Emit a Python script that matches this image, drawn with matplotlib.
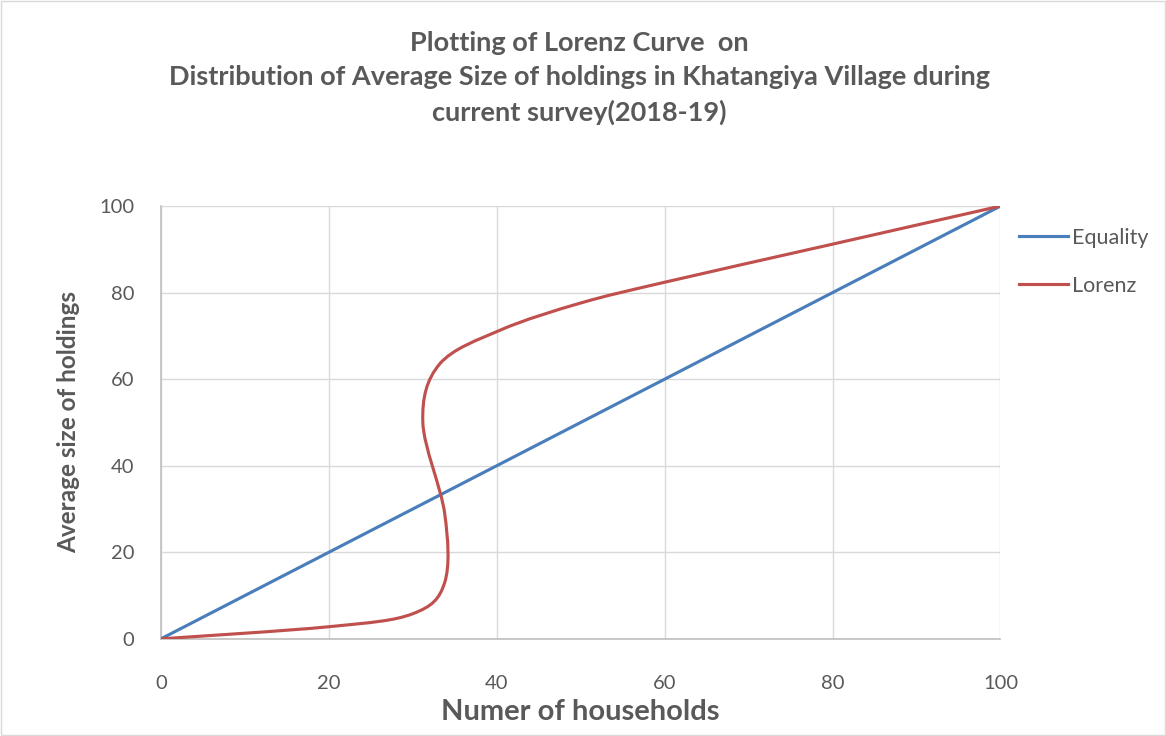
import numpy as np
import matplotlib.pyplot as plt
from matplotlib.path import Path
from matplotlib.patches import PathPatch, Rectangle
from matplotlib.lines import Line2D

plt.rcParams['font.family'] = ['Lato', 'DejaVu Sans']

# data
equality_x = [0, 100]
equality_y = [0, 100]
lorenz_x = [0, 20, 30, 33.8, 33.8, 31.2, 33.2, 40.5, 50, 60, 80, 100]
lorenz_y = [0, 2.8, 5.8, 13, 29, 50, 63.5, 71.4, 77.6, 82.4, 91.2, 100]

title = ("Plotting of Lorenz Curve  on\n"
         "Distribution of Average Size of holdings in Khatangiya Village during\n"
         "current survey(2018-19)")

BLUE = '#4a7ebb'
RED = '#c0504d'
TXT = '#595959'


def smooth_path(xs, ys):
    # Excel-style smoothed line: cubic bezier with neighbour-based control points
    pts = np.column_stack([xs, ys]).astype(float)
    n = len(pts)
    verts = [pts[0]]
    codes = [Path.MOVETO]
    for i in range(n - 1):
        p0 = pts[i - 1] if i > 0 else pts[i]
        p1 = pts[i]
        p2 = pts[i + 1]
        p3 = pts[i + 2] if i + 2 < n else pts[i + 1]
        c1 = p1 + (p2 - p0) / 6
        c2 = p2 - (p3 - p1) / 6
        verts += [c1, c2, p2]
        codes += [Path.CURVE4] * 3
    return Path(verts, codes)


fig = plt.figure(figsize=(11.66, 7.36), dpi=100)
fig.patches.append(Rectangle((0.001, 0.001), 0.998, 0.998, transform=fig.transFigure,
                             fill=False, edgecolor='#d9d9d9', linewidth=1))
ax = fig.add_axes([0.138, 0.132, 0.720, 0.588])

ax.plot(equality_x, equality_y, color=BLUE, linewidth=2.25, solid_capstyle='round', zorder=3)
ax.add_patch(PathPatch(smooth_path(lorenz_x, lorenz_y), facecolor='none',
                       edgecolor=RED, linewidth=2.25, capstyle='round', zorder=4))

ax.set_xlim(0, 100)
ax.set_ylim(0, 100)
ax.set_xticks(range(0, 101, 20))
ax.set_yticks(range(0, 101, 20))
ax.grid(color='#d9d9d9', linewidth=1)
ax.set_axisbelow(True)
for s in ['top', 'right']:
    ax.spines[s].set_visible(False)
for s in ['left', 'bottom']:
    ax.spines[s].set_color('#bfbfbf')
    ax.spines[s].set_linewidth(1.2)
ax.tick_params(length=0, labelsize=14.5, labelcolor=TXT)
ax.tick_params(axis='x', pad=26)
ax.tick_params(axis='y', pad=19)

ax.set_xlabel('Numer of households', fontsize=21, fontweight='bold', color=TXT, labelpad=5)
ax.set_ylabel('Average size of holdings', fontsize=17.5, fontweight='bold', color=TXT, labelpad=14)

fig.text(0.497, 0.958, title, ha='center', va='top', fontsize=19.5, fontweight='bold',
         color=TXT, linespacing=1.5)

handles = [Line2D([], [], color=BLUE, linewidth=2.25),
           Line2D([], [], color=RED, linewidth=2.25)]
fig.legend(handles, ['Equality', 'Lorenz'], loc='upper left', bbox_to_anchor=(0.857, 0.717),
           frameon=False, fontsize=15.5, labelcolor=TXT, handlelength=2.3,
           handletextpad=0.2, labelspacing=1.3)

fig.savefig('out.png', dpi=100)
